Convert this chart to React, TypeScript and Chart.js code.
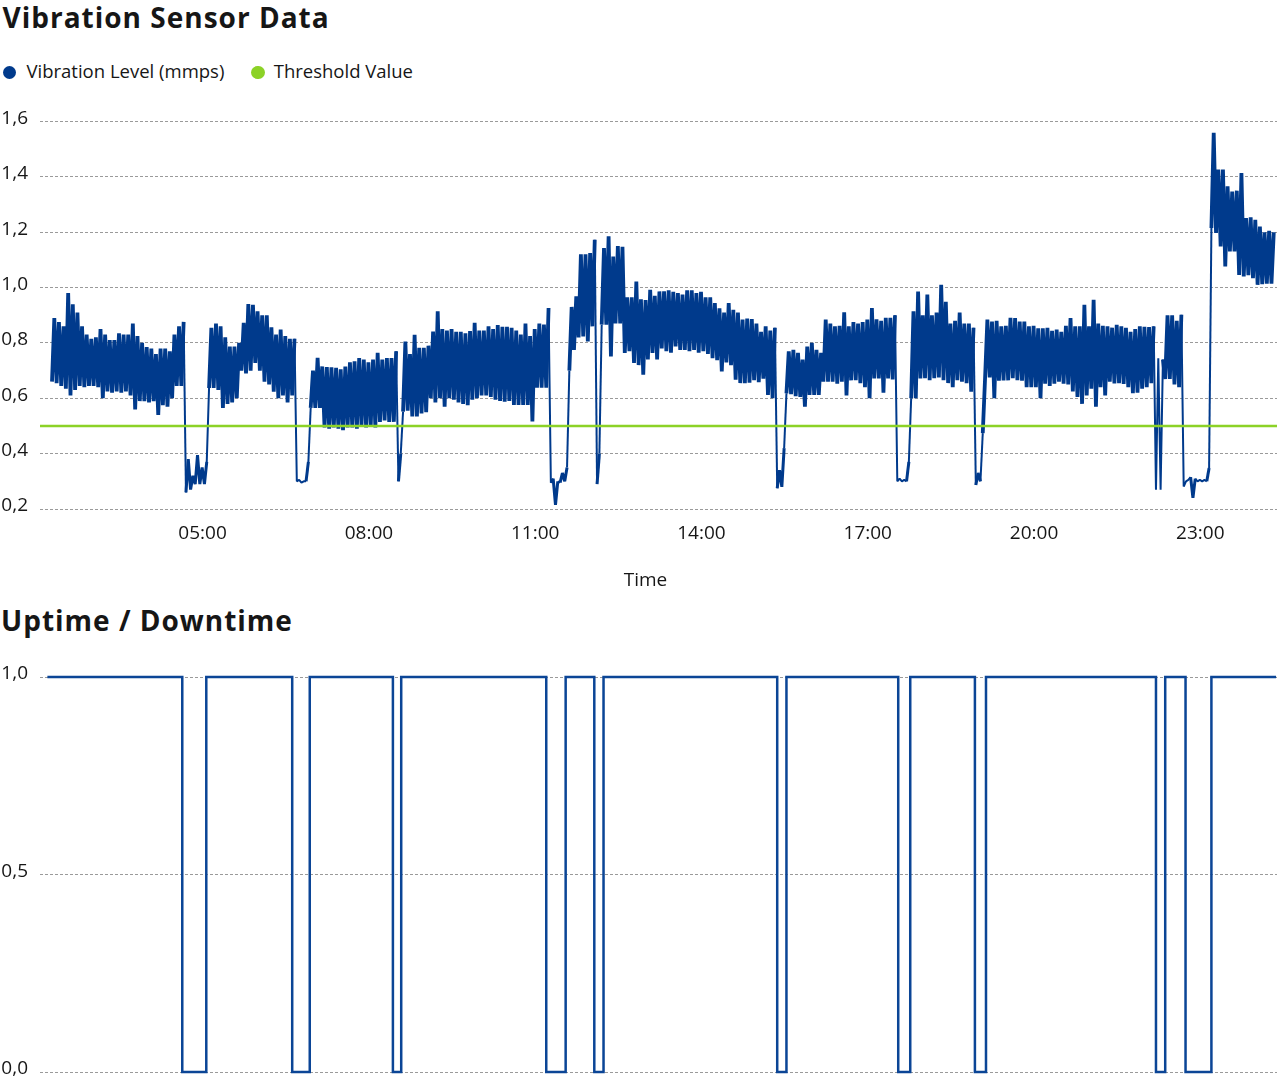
import React, { useEffect, useRef } from 'react';
import { Chart, registerables } from 'chart.js';

Chart.register(...registerables);

const FONT = "'Open Sans', 'Noto Sans', sans-serif";
const BLUE = '#003a8c';
const UPTIME_BLUE = '#0b4596';
const GREEN = '#8cd227';
const GRID = '#9a9a9a';
const TEXT = '#161616';

// visible time window (HH:MM, minutes past midnight of the first day)
const axisStart = '02:04';
const axisEnd = '24:23';
const timeTicks = ['05:00', '08:00', '11:00', '14:00', '17:00', '20:00', '23:00'];
const timeAxisTitle = 'Time';

// vibration samples: every 5 minutes from 02:17, each sample has a low and a high reading
const vibStart = '02:17';
const vibStepMinutes = 5;
const vibHigh = [
  0.89, 0.875, 0.86, 0.98, 0.94, 0.91, 0.86, 0.83, 0.815, 0.82,
  0.85, 0.83, 0.81, 0.81, 0.835, 0.83, 0.83, 0.87, 0.825, 0.80,
  0.785, 0.78, 0.76, 0.78, 0.78, 0.77, 0.83, 0.86, 0.876, 0.38,
  0.32, 0.395, 0.35, 0.37, 0.855, 0.87, 0.86, 0.82, 0.787, 0.787,
  0.80, 0.873, 0.94, 0.938, 0.914, 0.90, 0.90, 0.856, 0.83, 0.848,
  0.825, 0.815, 0.815, 0.305, 0.30, 0.37, 0.70, 0.746, 0.715, 0.713,
  0.712, 0.71, 0.705, 0.715, 0.73, 0.734, 0.745, 0.74, 0.73, 0.74,
  0.764, 0.74, 0.745, 0.745, 0.77, 0.40, 0.805, 0.76, 0.829, 0.782,
  0.782, 0.79, 0.841, 0.914, 0.85, 0.845, 0.85, 0.84, 0.84, 0.835,
  0.843, 0.873, 0.845, 0.845, 0.86, 0.85, 0.865, 0.858, 0.858, 0.855,
  0.845, 0.83, 0.87, 0.825, 0.85, 0.87, 0.866, 0.926, 0.31, 0.30,
  0.33, 0.35, 0.93, 0.968, 1.12, 1.12, 1.125, 1.173, 0.40, 1.143,
  1.185, 1.112, 1.15, 1.147, 0.965, 0.965, 1.022, 0.958, 0.955, 0.992,
  0.97, 0.986, 0.986, 0.99, 0.985, 0.98, 0.975, 0.99, 0.99, 0.98,
  0.985, 0.965, 0.965, 0.944, 0.925, 0.91, 0.944, 0.92, 0.91, 0.884,
  0.888, 0.886, 0.87, 0.84, 0.86, 0.845, 0.855, 0.34, 0.42, 0.77,
  0.775, 0.764, 0.74, 0.787, 0.80, 0.775, 0.764, 0.884, 0.87, 0.86,
  0.862, 0.911, 0.86, 0.875, 0.87, 0.875, 0.884, 0.926, 0.885, 0.88,
  0.891, 0.891, 0.90, 0.31, 0.305, 0.37, 0.914, 0.986, 0.90, 0.975,
  0.90, 0.91, 1.01, 0.949, 0.87, 0.88, 0.91, 0.87, 0.87, 0.855,
  0.33, 0.474, 0.884, 0.877, 0.88, 0.86, 0.862, 0.891, 0.89, 0.877,
  0.877, 0.86, 0.862, 0.853, 0.853, 0.855, 0.844, 0.848, 0.84, 0.862,
  0.89, 0.86, 0.86, 0.938, 0.86, 0.956, 0.87, 0.862, 0.86, 0.855,
  0.865, 0.86, 0.855, 0.84, 0.85, 0.86, 0.858, 0.857, 0.86, 0.745,
  0.74, 0.90, 0.90, 0.88, 0.902, 0.30, 0.315, 0.31, 0.305, 0.305,
  0.348, 1.559, 1.426, 1.426, 1.366, 1.347, 1.35, 1.414, 1.251, 1.254,
  1.245, 1.22, 1.20, 1.205, 1.20,
];
const vibLow = [
  0.66, 0.655, 0.645, 0.635, 0.61, 0.63, 0.645, 0.64, 0.645, 0.645,
  0.64, 0.60, 0.625, 0.62, 0.625, 0.62, 0.625, 0.61, 0.56, 0.59,
  0.59, 0.585, 0.59, 0.54, 0.575, 0.57, 0.60, 0.645, 0.645, 0.26,
  0.27, 0.29, 0.29, 0.29, 0.637, 0.637, 0.63, 0.565, 0.58, 0.585,
  0.60, 0.70, 0.69, 0.70, 0.728, 0.70, 0.66, 0.65, 0.624, 0.60,
  0.61, 0.585, 0.61, 0.30, 0.295, 0.30, 0.565, 0.565, 0.565, 0.495,
  0.49, 0.495, 0.49, 0.485, 0.495, 0.495, 0.49, 0.50, 0.495, 0.50,
  0.495, 0.515, 0.52, 0.515, 0.515, 0.30, 0.552, 0.555, 0.534, 0.534,
  0.545, 0.55, 0.60, 0.585, 0.60, 0.57, 0.60, 0.595, 0.585, 0.58,
  0.575, 0.595, 0.60, 0.61, 0.61, 0.605, 0.595, 0.59, 0.588, 0.59,
  0.576, 0.576, 0.576, 0.576, 0.516, 0.638, 0.638, 0.638, 0.295, 0.215,
  0.295, 0.30, 0.70, 0.775, 0.82, 0.823, 0.805, 0.86, 0.29, 0.866,
  0.866, 0.751, 0.87, 0.87, 0.764, 0.77, 0.728, 0.72, 0.685, 0.74,
  0.764, 0.74, 0.78, 0.77, 0.765, 0.787, 0.775, 0.775, 0.77, 0.775,
  0.765, 0.77, 0.76, 0.745, 0.738, 0.697, 0.73, 0.72, 0.667, 0.655,
  0.655, 0.656, 0.665, 0.658, 0.671, 0.612, 0.60, 0.275, 0.28, 0.618,
  0.615, 0.608, 0.605, 0.57, 0.612, 0.612, 0.612, 0.66, 0.66, 0.66,
  0.653, 0.66, 0.61, 0.665, 0.665, 0.655, 0.64, 0.60, 0.672, 0.672,
  0.62, 0.672, 0.668, 0.30, 0.30, 0.30, 0.60, 0.60, 0.672, 0.673,
  0.665, 0.673, 0.675, 0.665, 0.655, 0.64, 0.665, 0.66, 0.655, 0.624,
  0.287, 0.30, 0.673, 0.675, 0.60, 0.664, 0.665, 0.665, 0.673, 0.665,
  0.664, 0.64, 0.64, 0.64, 0.60, 0.653, 0.645, 0.653, 0.66, 0.653,
  0.65, 0.625, 0.605, 0.58, 0.61, 0.635, 0.57, 0.64, 0.61, 0.66,
  0.654, 0.655, 0.652, 0.64, 0.618, 0.62, 0.635, 0.64, 0.655, 0.27,
  0.27, 0.67, 0.67, 0.65, 0.64, 0.281, 0.305, 0.24, 0.30, 0.30,
  0.30, 1.215, 1.197, 1.149, 1.076, 1.131, 1.131, 1.046, 1.04, 1.045,
  1.034, 1.01, 1.012, 1.014, 1.014,
];
const thresholdValue = 0.5;

// uptime state changes (1 = running, 0 = down), value holds until the next change
const uptimeTimes = [
  '02:12', '04:38', '05:04', '06:37', '06:56', '08:26', '08:35', '11:12', '11:33', '12:04', '12:14',
  '15:22', '15:32', '17:33', '17:46', '18:56', '19:08', '22:12', '22:22', '22:44', '23:12', '24:22',
];
const uptimeStates = [1, 0, 1, 0, 1, 0, 1, 0, 1, 0, 1, 0, 1, 0, 1, 0, 1, 0, 1, 0, 1, 1];

function toMinutes(s: string): number {
  const [h, m] = s.split(':').map(Number);
  return h * 60 + m;
}
function fmtTime(min: number): string {
  const h = Math.floor(min / 60) % 24;
  const m = Math.round(min % 60);
  return String(h).padStart(2, '0') + ':' + String(m).padStart(2, '0');
}
const fmtNum = (v: any) => Number(v).toFixed(1).replace('.', ',');

const xMin = toMinutes(axisStart);
const xMax = toMinutes(axisEnd);
const tickMinutes = timeTicks.map(toMinutes);

const fixYAxis = (axis: any) => {
  axis.width = 40;
  axis.paddingTop = 0;
  axis.paddingBottom = 0;
};

// stroke width per segment: dense band while running, thin lines around stops
const segmentWidth = (ctx: any) => {
  const a = ctx.p0.parsed.y;
  const b = ctx.p1.parsed.y;
  const lowA = a < 0.45;
  const lowB = b < 0.45;
  if (lowA && lowB) return Math.abs(a - b) > 0.03 ? 3 : 2;
  if (lowA || lowB) return 2;
  return 3.8;
};

export default function App() {
  const topRef = useRef<HTMLCanvasElement>(null);
  const botRef = useRef<HTMLCanvasElement>(null);

  useEffect(() => {
    const vibStartMin = toMinutes(vibStart);
    const vibPoints: { x: number; y: number }[] = [];
    vibLow.forEach((lo, i) => {
      const t = vibStartMin + i * vibStepMinutes;
      vibPoints.push({ x: t, y: lo });
      vibPoints.push({ x: t + vibStepMinutes / 2, y: vibHigh[i] });
    });
    const thresholdPoints = [
      { x: xMin, y: thresholdValue },
      { x: xMax, y: thresholdValue },
    ];
    const uptimePoints = uptimeTimes.map((s, i) => ({ x: toMinutes(s), y: uptimeStates[i] }));

    const tickFont = { family: FONT, size: 19 };

    const c1 = new Chart(topRef.current as HTMLCanvasElement, {
      type: 'line',
      data: {
        datasets: [
          {
            label: 'Vibration Level (mmps)',
            data: vibPoints,
            borderColor: BLUE,
            backgroundColor: BLUE,
            borderWidth: 3.8,
            borderJoinStyle: 'bevel',
            pointRadius: 0,
            tension: 0,
            order: 1,
            segment: { borderWidth: segmentWidth },
          },
          {
            label: 'Threshold Value',
            data: thresholdPoints,
            borderColor: GREEN,
            backgroundColor: GREEN,
            borderWidth: 2.5,
            pointRadius: 0,
            order: 0,
          },
        ],
      },
      options: {
        responsive: false,
        animation: false,
        devicePixelRatio: 1,
        events: [],
        layout: { padding: { top: 21.5, left: 0, right: 0, bottom: 0 } },
        plugins: { legend: { display: false }, tooltip: { enabled: false }, title: { display: false } },
        scales: {
          x: {
            type: 'linear',
            min: xMin,
            max: xMax,
            grid: { display: false, drawTicks: false },
            border: { display: false },
            afterBuildTicks: (axis: any) => {
              axis.ticks = tickMinutes.map((v) => ({ value: v }));
            },
            afterFit: (axis: any) => {
              axis.height = 87;
            },
            ticks: {
              autoSkip: false,
              maxRotation: 0,
              padding: 13,
              color: TEXT,
              font: tickFont,
              callback: (v: any) => fmtTime(Number(v)),
            },
            title: { display: false },
          },
          y: {
            min: 0.2,
            max: 1.6,
            afterFit: fixYAxis,
            ticks: {
              stepSize: 0.2,
              padding: 12,
              labelOffset: -3,
              color: TEXT,
              font: tickFont,
              callback: fmtNum,
            },
            grid: { color: GRID, lineWidth: 1, drawTicks: false },
            border: { display: false, dash: [3, 2] },
          },
        },
      } as any,
    });

    const c2 = new Chart(botRef.current as HTMLCanvasElement, {
      type: 'line',
      data: {
        datasets: [
          {
            label: 'Uptime',
            data: uptimePoints,
            stepped: true,
            borderColor: UPTIME_BLUE,
            backgroundColor: UPTIME_BLUE,
            borderWidth: 2.5,
            pointRadius: 0,
            clip: false,
          },
        ],
      },
      options: {
        responsive: false,
        animation: false,
        devicePixelRatio: 1,
        events: [],
        layout: { padding: { top: 27, left: 0, right: 0, bottom: 8 } },
        plugins: { legend: { display: false }, tooltip: { enabled: false }, title: { display: false } },
        scales: {
          x: {
            type: 'linear',
            min: xMin,
            max: xMax,
            display: false,
          },
          y: {
            min: 0,
            max: 1,
            afterFit: fixYAxis,
            ticks: {
              stepSize: 0.5,
              padding: 12,
              labelOffset: -3,
              color: TEXT,
              font: tickFont,
              callback: fmtNum,
            },
            grid: { color: GRID, lineWidth: 1, drawTicks: false },
            border: { display: false, dash: [3, 2] },
          },
        },
      } as any,
    });

    return () => {
      c1.destroy();
      c2.destroy();
    };
  }, []);

  const titleStyle: React.CSSProperties = {
    position: 'absolute',
    fontFamily: FONT,
    fontSize: 28,
    lineHeight: '28px',
    fontWeight: 700,
    letterSpacing: 1,
    color: TEXT,
    whiteSpace: 'nowrap',
    margin: 0,
  };
  const legendText: React.CSSProperties = {
    position: 'absolute',
    top: 62.3,
    fontFamily: FONT,
    fontSize: 18.5,
    lineHeight: '18.5px',
    color: TEXT,
    whiteSpace: 'nowrap',
  };
  const dot = (left: number, color: string): React.CSSProperties => ({
    position: 'absolute',
    left,
    top: 65.5,
    width: 13.5,
    height: 13.5,
    borderRadius: '50%',
    background: color,
  });

  return (
    <div
      style={{
        position: 'absolute',
        left: 0,
        top: 0,
        width: 1277,
        height: 1080,
        overflow: 'hidden',
        background: '#ffffff',
      }}
    >
      <div style={{ ...titleStyle, left: 2.5, top: 3.4 }}>Vibration Sensor Data</div>
      <div style={dot(2.8, BLUE)} />
      <div style={{ ...legendText, left: 26.5 }}>Vibration Level (mmps)</div>
      <div style={dot(251, GREEN)} />
      <div style={{ ...legendText, left: 273.7 }}>Threshold Value</div>
      <canvas
        ref={topRef}
        width={1277}
        height={496}
        style={{ position: 'absolute', left: 0, top: 100, width: 1277, height: 496 }}
      />
      <div
        style={{
          position: 'absolute',
          left: 545.5,
          width: 200,
          top: 570.4,
          textAlign: 'center',
          fontFamily: FONT,
          fontSize: 19,
          lineHeight: '19px',
          color: TEXT,
        }}
      >
        {timeAxisTitle}
      </div>
      <div style={{ ...titleStyle, left: 1, top: 606.4 }}>Uptime / Downtime</div>
      <canvas
        ref={botRef}
        width={1277}
        height={430}
        style={{ position: 'absolute', left: 0, top: 650, width: 1277, height: 430 }}
      />
    </div>
  );
}
